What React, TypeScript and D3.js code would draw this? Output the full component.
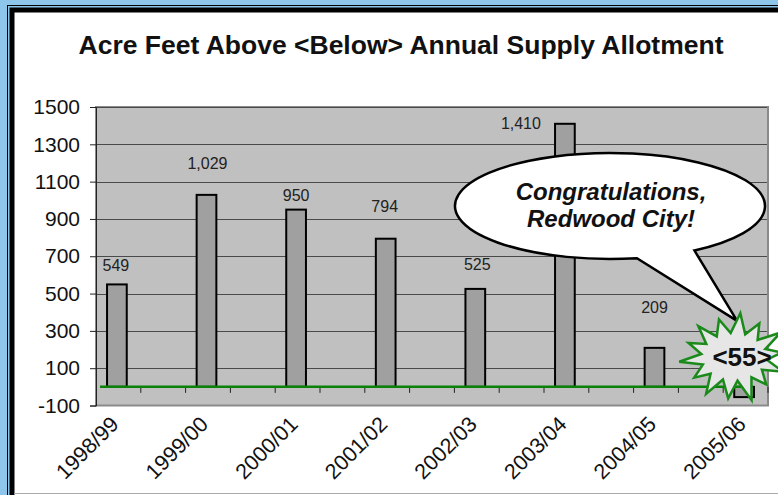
import React, { useEffect, useRef } from 'react';
import * as d3 from 'd3';

// Acre feet above / below the annual supply allotment, per fiscal year
const seasons = ['1998/99', '1999/00', '2000/01', '2001/02', '2002/03', '2003/04', '2004/05', '2005/06'];
const acreFeet = [549, 1029, 950, 794, 525, 1410, 209, -55];
const yTicks = [-100, 100, 300, 500, 700, 900, 1100, 1300, 1500];
const chartTitle = 'Acre Feet Above <Below> Annual Supply Allotment';
const calloutLines = ['Congratulations,', 'Redwood City!'];

const FONT = "'Liberation Sans', Arial, sans-serif";
const fmt = (v: number) => (v < 0 ? `<${Math.abs(v)}>` : d3.format(',')(v));

const App = () => {
  const ref = useRef<SVGSVGElement | null>(null);

  useEffect(() => {
    const W = 778;
    const H = 495;
    const svg = d3.select(ref.current).attr('width', W).attr('height', H);
    svg.selectAll('*').remove();

    // frame
    svg.append('rect').attr('width', W).attr('height', H).attr('fill', '#8ec5ea');
    svg.append('rect').attr('x', 7.5).attr('y', 5.5).attr('width', 800).attr('height', 500)
      .attr('fill', 'none').attr('stroke', '#000').attr('stroke-width', 1);
    svg.append('rect').attr('x', 12).attr('y', 10).attr('width', 800).attr('height', 500)
      .attr('fill', '#fff').attr('stroke', '#000').attr('stroke-width', 5);
    svg.append('line').attr('x1', 14).attr('x2', W).attr('y1', 493.5).attr('y2', 493.5)
      .attr('stroke', '#aaa').attr('stroke-width', 1);

    svg.append('text')
      .attr('x', 401).attr('y', 54)
      .attr('text-anchor', 'middle')
      .attr('font-family', FONT).attr('font-size', 26.5).attr('font-weight', 'bold')
      .attr('fill', '#111')
      .text(chartTitle);

    const plot = { left: 96, right: 768, top: 107, bottom: 405.5 };

    // 15 slots: a bar every other slot, as in the original sheet
    const slots = d3.range(seasons.length * 2 - 1);
    const x = d3.scaleBand<number>().domain(slots).range([plot.left, plot.right]).padding(0);
    const y = d3.scaleLinear().domain([-100, 1500]).range([plot.bottom, plot.top]);
    const bw = x.bandwidth();
    const barW = bw * 0.44;
    const cx = (i: number) => (x(i * 2) as number) + bw / 2 - 1.5;

    svg.append('rect')
      .attr('x', plot.left).attr('y', plot.top)
      .attr('width', plot.right - plot.left).attr('height', plot.bottom - plot.top)
      .attr('fill', '#c0c0c0').attr('stroke', '#8a8a8a').attr('stroke-width', 2);

    svg.append('g')
      .selectAll('line')
      .data(yTicks.slice(1))
      .join('line')
      .attr('x1', plot.left).attr('x2', plot.right - 1)
      .attr('y1', d => Math.round(y(d)) + 0.5).attr('y2', d => Math.round(y(d)) + 0.5)
      .attr('stroke', '#4a4a4a').attr('stroke-width', 1);

    // y axis
    const yAxis = svg.append('g').attr('transform', `translate(${plot.left},0)`)
      .call(d3.axisLeft(y).tickValues(yTicks).tickSize(6).tickPadding(10).tickFormat(d => String(d)));
    yAxis.select('.domain').attr('stroke', '#222');
    yAxis.selectAll('line').attr('stroke', '#222');
    yAxis.selectAll('text').attr('font-family', FONT).attr('font-size', 21).attr('fill', '#111');

    // bars
    svg.append('g')
      .selectAll('rect')
      .data(acreFeet)
      .join('rect')
      .attr('x', (d, i) => cx(i) - barW / 2)
      .attr('y', d => y(Math.max(0, d)))
      .attr('width', barW)
      .attr('height', d => Math.abs(y(d) - y(0)))
      .attr('fill', '#a0a0a0')
      .attr('stroke', '#000')
      .attr('stroke-width', 2);

    // zero line + category ticks
    const y0 = y(0);
    svg.append('g')
      .selectAll('line')
      .data(d3.range(1, slots.length + 1))
      .join('line')
      .attr('x1', k => plot.left + k * bw).attr('x2', k => plot.left + k * bw)
      .attr('y1', y0).attr('y2', y0 + 6)
      .attr('stroke', '#222').attr('stroke-width', 1);
    svg.append('line')
      .attr('x1', plot.left + 4).attr('x2', plot.right - 15)
      .attr('y1', y0).attr('y2', y0)
      .attr('stroke', '#0a820a').attr('stroke-width', 2.5);

    // category labels
    svg.append('g')
      .selectAll('text')
      .data(seasons)
      .join('text')
      .attr('transform', (d, i) => `translate(${cx(i) + 3},${plot.bottom + 20}) rotate(-45)`)
      .attr('text-anchor', 'end')
      .attr('font-family', FONT).attr('font-size', 21.5).attr('fill', '#111')
      .text(d => d);

    // data labels, hand-placed in the original
    const nudges: [number, number][] = [[-1, -13], [1, -26], [0, -9], [-1, -27], [2, -19], [-44, 5], [0, -35]];
    svg.append('g')
      .selectAll('text')
      .data(acreFeet.slice(0, nudges.length))
      .join('text')
      .attr('x', (d, i) => cx(i) + nudges[i][0])
      .attr('y', (d, i) => y(d) + nudges[i][1])
      .attr('text-anchor', 'middle')
      .attr('font-family', FONT).attr('font-size', 16).attr('fill', '#222')
      .text(d => fmt(d));

    // speech bubble
    const bub = { cx: 610, cy: 206, rx: 155, ry: 53 };
    const pt = (deg: number) => {
      const t = (deg * Math.PI) / 180;
      return [bub.cx + bub.rx * Math.cos(t), bub.cy + bub.ry * Math.sin(t)];
    };
    const [bx, by] = pt(57);
    const [ax, ay] = pt(80);
    const last = acreFeet.length - 1;
    const tip = [cx(last) - 7, y0 - 66];
    svg.append('path')
      .attr('d', `M${bx},${by} A${bub.rx},${bub.ry} 0 1 0 ${ax},${ay} L${tip[0]},${tip[1]} Z`)
      .attr('fill', '#fff').attr('stroke', '#000').attr('stroke-width', 2.5)
      .attr('stroke-linejoin', 'miter');
    svg.append('g')
      .selectAll('text')
      .data(calloutLines)
      .join('text')
      .attr('x', 611).attr('y', (d, i) => 200 + i * 27)
      .attr('text-anchor', 'middle')
      .attr('font-family', FONT).attr('font-size', 24)
      .attr('font-weight', 'bold').attr('font-style', 'italic')
      .attr('fill', '#111')
      .text(d => d);

    // starburst with the negative value (spikes slightly uneven, like the clip-art shape)
    const sx = cx(last) - 10;
    const sy = y0 - 30;
    const n = 14;
    const spike = [1, 0.9, 1.05, 0.92, 1, 0.88, 1.04, 0.95, 1, 0.9, 1.06, 0.93, 0.98, 0.9];
    const starPts: [number, number][] = d3.range(n * 2).map(k => {
      const a = (k * Math.PI) / n - Math.PI / 2 + 0.12;
      const s = k % 2 === 0 ? spike[k / 2] : 1;
      const r = k % 2 === 0 ? [52 * s, 44 * s] : [33, 24];
      return [sx + r[0] * Math.cos(a), sy + r[1] * Math.sin(a)];
    });
    svg.append('path')
      .attr('d', d3.line()(starPts) + 'Z')
      .attr('fill', '#e6e6e6').attr('stroke', '#1a8a1a').attr('stroke-width', 2.5)
      .attr('stroke-linejoin', 'miter');
    svg.append('text')
      .attr('x', sx + 8).attr('y', sy + 9)
      .attr('text-anchor', 'middle')
      .attr('font-family', FONT).attr('font-size', 26).attr('font-weight', 'bold')
      .attr('fill', '#111')
      .text(fmt(acreFeet[last]));
  }, []);

  return (
    <div style={{ position: 'absolute', left: 0, top: 0 }}>
      <svg ref={ref} style={{ display: 'block' }}></svg>
    </div>
  );
};

export default App;
